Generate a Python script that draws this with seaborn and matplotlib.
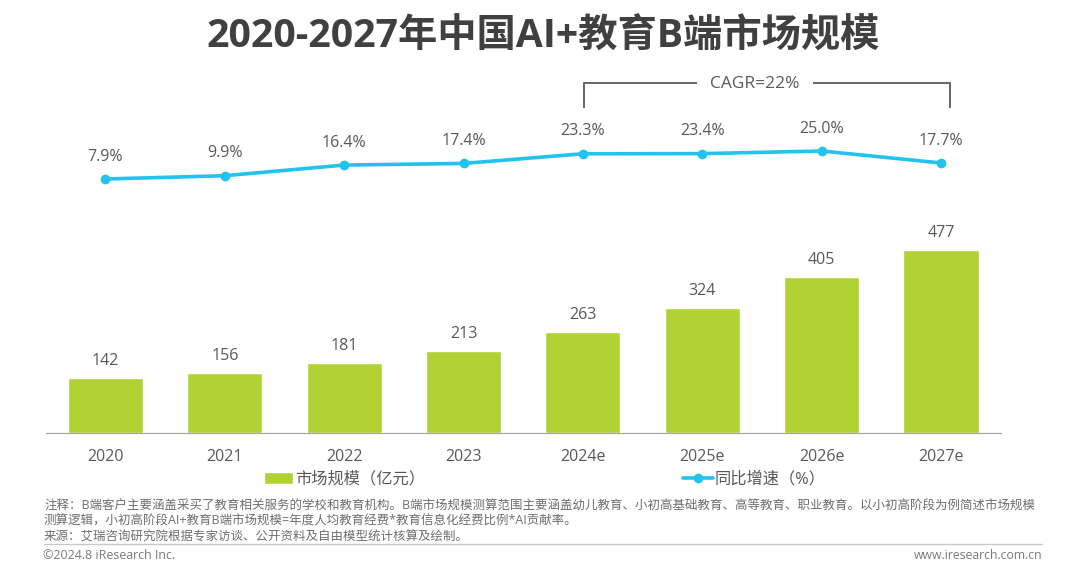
import matplotlib
matplotlib.use('Agg')
import matplotlib.pyplot as plt
import pandas as pd
import seaborn as sns
from matplotlib.lines import Line2D

years = ['2020', '2021', '2022', '2023', '2024e', '2025e', '2026e', '2027e']
market_size = [142, 156, 181, 213, 263, 324, 405, 477]
growth = [7.9, 9.9, 16.4, 17.4, 23.3, 23.4, 25.0, 17.7]

title = '2020-2027年中国AI+教育B端市场规模'
note_lines = [
    '注释：B端客户主要涵盖采买了教育相关服务的学校和教育机构。B端市场规模测算范围主要涵盖幼儿教育、小初高基础教育、高等教育、职业教育。以小初高阶段为例简述市场规模',
    '测算逻辑，小初高阶段AI+教育B端市场规模=年度人均教育经费*教育信息化经费比例*AI贡献率。',
    '来源：艾瑞咨询研究院根据专家访谈、公开资料及自由模型统计核算及绘制。',
]

W, H = 1080, 569
GREEN = '#b0d232'
BLUE = '#22c3ee'
GREY = '#595959'

sns.set_theme(style='white')
plt.rcParams['font.family'] = ['Open Sans', 'Noto Sans CJK SC', 'DejaVu Sans']

df = pd.DataFrame({'year': years, 'size': market_size, 'growth': growth})


def fx(x):
    return x / W


def fy(y):
    return 1 - y / H


fig = plt.figure(figsize=(W / 100, H / 100), dpi=100, facecolor='white')
ax = fig.add_axes([fx(45.7), fy(433), 955 / W, 373 / H])

# bars
sns.barplot(data=df, x='year', y='size', color=GREEN, saturation=1, width=0.63,
            ax=ax, label='市场规模（亿元）', legend=False)
ax.set_xlim(-0.5, 7.5)
ax.set_ylim(0, 970)
for i, v in enumerate(market_size):
    ax.annotate(str(v), (i, v), xytext=(0, 6.5), textcoords='offset points',
                ha='center', va='bottom', fontsize=11.5, color=GREY)

# growth line on a second scale
ax2 = ax.twinx()
sns.lineplot(data=df, x='year', y='growth', color=BLUE, lw=2.6, marker='o', ms=7,
             mec=BLUE, mew=0, ax=ax2, label='同比增速（%）', legend=False, sort=False)
ax2.set_ylim(-147.3, 80.6)
for i, v in enumerate(growth):
    ax2.annotate(f'{v:.1f}%', (i, v), xytext=(0, 10.3), textcoords='offset points',
                 ha='center', va='bottom', fontsize=11.5, color=GREY)

for a in (ax, ax2):
    a.set_xlabel('')
    a.set_ylabel('')
    a.set_yticks([])
    a.grid(False)
    for side in ('top', 'left', 'right'):
        a.spines[side].set_visible(False)
    a.spines['bottom'].set_color('#a6a6a6')
    a.spines['bottom'].set_linewidth(0.8)
ax.tick_params(axis='x', length=0, pad=11.7, labelsize=11.5, labelcolor=GREY)

# legend
h1, l1 = ax.get_legend_handles_labels()
h2, l2 = ax2.get_legend_handles_labels()
if ax.get_legend() is not None:
    ax.get_legend().remove()
fig.legend(h1 + h2, l1 + l2, ncol=2, frameon=False, loc='center left',
           bbox_to_anchor=(fx(264), fy(479.5)), fontsize=11.7, labelcolor=GREY,
           columnspacing=15.9, handlelength=1.8, handleheight=0.7, handletextpad=0.1,
           borderpad=0, borderaxespad=0)

fig.text(fx(543.5), fy(37), title, ha='center', va='center', fontsize=28.3,
         fontweight='bold', color='#404040')

# CAGR bracket
bracket = {'color': '#595959', 'lw': 1.3, 'solid_capstyle': 'butt', 'solid_joinstyle': 'miter'}
fig.add_artist(Line2D([fx(583.5), fx(583.5), fx(697)], [fy(108), fy(83), fy(83)], **bracket))
fig.add_artist(Line2D([fx(813), fx(950.5), fx(950.5)], [fy(83), fy(83), fy(108)], **bracket))
fig.text(fx(755), fy(84.5), 'CAGR=22%', ha='center', va='center', fontsize=12.5, color=GREY)

# footnotes
for y, line in zip([506.5, 521.5, 537.5], note_lines):
    fig.text(fx(44), fy(y), line, ha='left', va='center', fontsize=8.98, color='#6e6e6e')
fig.add_artist(Line2D([fx(44), fx(1042)], [fy(543.5), fy(543.5)], color='#c8c8c8', lw=1))
fig.text(fx(43), fy(555.5), '©2024.8 iResearch Inc.', ha='left', va='center', fontsize=8.9,
         color='#7a7a7a')
fig.text(fx(1042.5), fy(555.5), 'www.iresearch.com.cn', ha='right', va='center', fontsize=8.8,
         color='#7a7a7a')

fig.savefig('out.png', dpi=100)
